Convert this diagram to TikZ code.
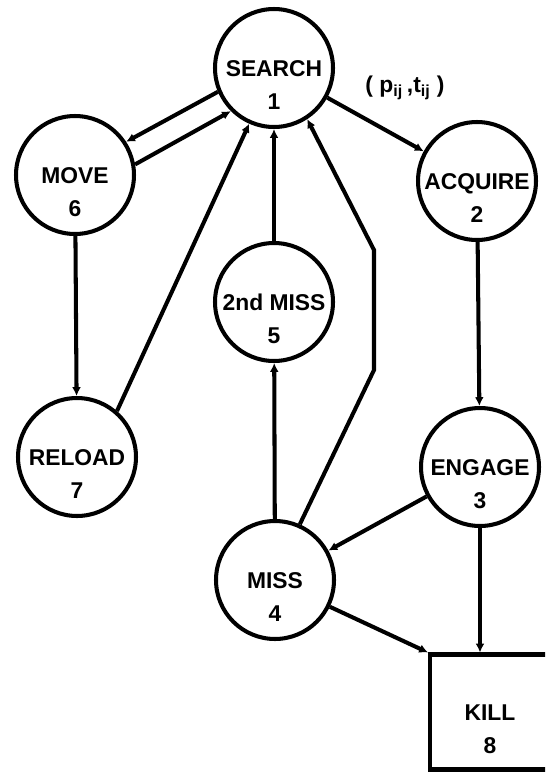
\documentclass[tikz,border=0pt]{standalone}
\usepackage{fontspec}
\setmainfont{Liberation Sans}
\usetikzlibrary{arrows.meta}

\begin{document}
\begin{tikzpicture}%
  [x=0.02cm,y=-0.02cm,line width=2.3pt,>={Latex[length=5pt,width=5pt]},
   font=\fontsize{13}{16}\selectfont\bfseries]
  \tikzstyle{state node}=[circle,draw,minimum size=2.36cm,inner sep=0,text height=9.5pt,text depth=0pt]
  \tikzstyle{kill node}=[rectangle,draw,minimum width=2.4cm,minimum height=2.3cm,inner sep=0,text height=9.5pt,text depth=0pt]
  \tikzstyle{num}=[yshift=-0.68cm,inner sep=0]
  \clip (0,0) rectangle (545,774);
  \node(search)[state node,label={[num]center:1}] at (274,68) {SEARCH};
  \node(acquire)[state node,label={[num]center:2}] at (477,181) {ACQUIRE};
  \node(engage)[state node,label={[num]center:3}] at (480,467) {ENGAGE};
  \node(miss)[state node,label={[num]center:4}] at (275,580) {MISS};
  \node(second)[state node,label={[num]center:5}] at (274,302) {2nd MISS};
  \node(move)[state node,label={[num]center:6}] at (75,175) {MOVE};
  \node(reload)[state node,label={[num]center:7}] at (77,457) {RELOAD};
  \node(kill)[kill node,label={[num]center:8}] at (490,712) {KILL};
  \node(cost) at (405,88) {(\ p\textsubscript{ij}\,,t\textsubscript{ij}\ )};
  \coordinate (bendlo) at (374,370);
  \coordinate (bendhi) at (374,250);
  % edges out of search
  \draw[->] (search) -- (acquire);
  \draw[->] (search.203) -- (move.33);
  % back to search
  \draw[->] (move.10) -- (search.225);
  \draw[->] (reload.49) -- (search.246);
  \draw[->] (second) -- (search);
  \draw[->] (miss.66) -- (bendlo) -- (bendhi) -- (search.303);
  \draw[->] (move) -- (reload);
  \draw[->] (miss) -- (second);
  \draw[->] (acquire) -- (engage);
  \draw[->] (engage) -- (miss);
  \draw[->] (engage) -- (engage |- kill.north);
  \draw[->] (miss.-26) -- (kill.north west);
\end{tikzpicture}
\end{document}
